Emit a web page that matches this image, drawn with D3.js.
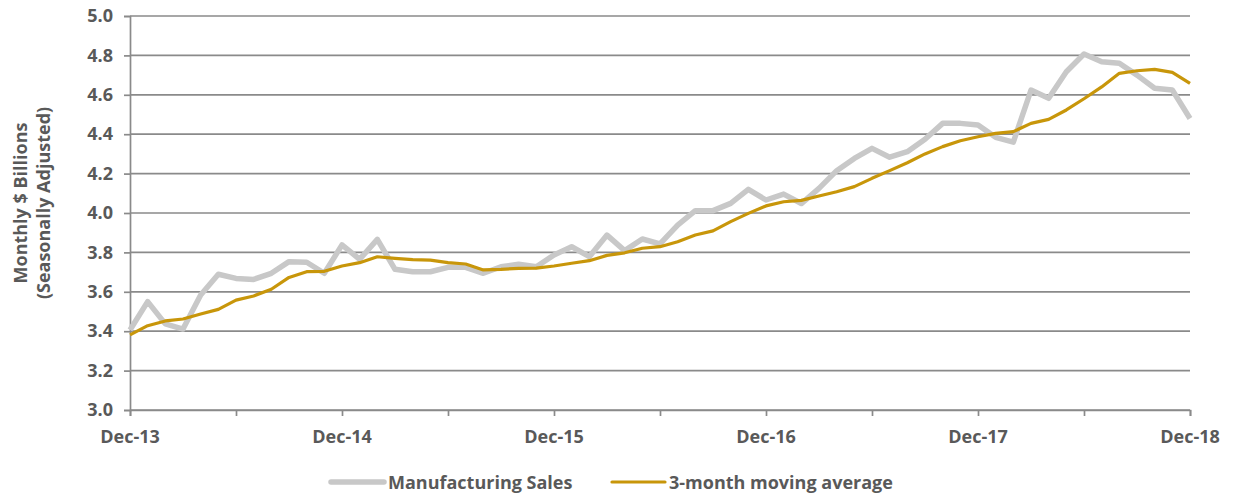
<!DOCTYPE html>
<html><head><meta charset="utf-8">
<script src="https://cdn.jsdelivr.net/npm/d3@7"></script>
<style>
html,body{margin:0;padding:0;background:#fff;}
text{font-family:"Open Sans",Lato,sans-serif;font-weight:bold;fill:#595959;}
</style></head>
<body><svg id="c" width="1233" height="497"></svg>
<script>
const salesValues = [3.406,3.55,3.437,3.411,3.584,3.689,3.668,3.663,3.694,3.753,3.75,3.694,3.838,3.765,3.866,3.714,3.702,3.702,3.724,3.724,3.694,3.727,3.74,3.727,3.787,3.829,3.778,3.888,3.809,3.868,3.843,3.939,4.012,4.012,4.049,4.12,4.066,4.096,4.048,4.125,4.215,4.277,4.328,4.283,4.311,4.374,4.455,4.455,4.447,4.384,4.36,4.624,4.582,4.717,4.807,4.768,4.76,4.70,4.633,4.624,4.48];
const avgValues = [3.381,3.428,3.452,3.462,3.487,3.511,3.558,3.579,3.613,3.673,3.702,3.704,3.731,3.748,3.778,3.77,3.763,3.761,3.748,3.741,3.711,3.714,3.719,3.72,3.731,3.745,3.758,3.785,3.798,3.821,3.829,3.854,3.888,3.909,3.956,3.998,4.036,4.057,4.064,4.086,4.108,4.134,4.176,4.215,4.255,4.30,4.337,4.367,4.387,4.404,4.413,4.455,4.475,4.523,4.58,4.64,4.709,4.722,4.729,4.714,4.658];
const yTicks = [3.0,3.2,3.4,3.6,3.8,4.0,4.2,4.4,4.6,4.8,5.0];
const xLabels = ["Dec-13","Dec-14","Dec-15","Dec-16","Dec-17","Dec-18"];
const seriesNames = ["Manufacturing Sales","3-month moving average"];
const seriesColors = ["#c8c8c8","#c8960a"];

const svg = d3.select("#c");
const L=130, R=1190, T=16, B=410;
const x = d3.scaleLinear().domain([0, salesValues.length-1]).range([L,R]);
const y = d3.scaleLinear().domain([3.0,5.0]).range([B,T]);
const gridColor = "#8a8a8a";
const fs = "18px";

svg.append("g").selectAll("line").data(yTicks).join("line")
  .attr("x1",L).attr("x2",R).attr("y1",d=>y(d)).attr("y2",d=>y(d))
  .attr("stroke",gridColor).attr("stroke-width",1.7);

const yAxis = d3.axisLeft(y).tickValues(yTicks).tickFormat(d3.format(".1f")).tickSize(6).tickPadding(11);
const gy = svg.append("g").attr("transform",`translate(${L},0)`).call(yAxis);
gy.select(".domain").attr("stroke",gridColor).attr("stroke-width",1.7);
gy.selectAll(".tick line").attr("stroke",gridColor).attr("stroke-width",1.7);
gy.selectAll(".tick text").style("font-size",fs).attr("fill","#595959");

const xTicks = d3.range(0, salesValues.length, 6);
const xAxis = d3.axisBottom(x).tickValues(xTicks).tickSize(6).tickFormat(()=>"");
const gx = svg.append("g").attr("transform",`translate(0,${B})`).call(xAxis);
gx.select(".domain").attr("stroke",gridColor).attr("stroke-width",1.7);
gx.selectAll(".tick line").attr("stroke",gridColor).attr("stroke-width",1.7);
svg.append("g").selectAll("text").data(xLabels).join("text")
  .attr("x",(d,i)=>x(i*12)).attr("y",B+33).attr("text-anchor","middle")
  .style("font-size",fs).text(d=>d);

const ty = svg.append("text").attr("transform","translate(0,203) rotate(-90)").attr("text-anchor","middle").style("font-size",fs);
ty.append("tspan").attr("x",0).attr("y",27).text("Monthly $ Billions");
ty.append("tspan").attr("x",0).attr("y",50).text("(Seasonally Adjusted)");

const line = d3.line().x((d,i)=>x(i)).y(d=>y(d)).curve(d3.curveLinear);
svg.append("path").datum(salesValues).attr("d",line).attr("fill","none")
  .attr("stroke",seriesColors[0]).attr("stroke-width",5.5).attr("stroke-linejoin","round");
svg.append("path").datum(avgValues).attr("d",line).attr("fill","none")
  .attr("stroke",seriesColors[1]).attr("stroke-width",3.2).attr("stroke-linejoin","round");

const legX = [331, 612];
const lg = svg.append("g").selectAll("g").data(seriesNames).join("g")
  .attr("transform",(d,i)=>`translate(${legX[i]},482)`);
lg.append("line").attr("x1",0).attr("x2",53).attr("y1",0).attr("y2",0)
  .attr("stroke",(d,i)=>seriesColors[i]).attr("stroke-width",(d,i)=>i===0?5.5:3.2).attr("stroke-linecap","round");
lg.append("text").attr("x",57).attr("y",6.5).style("font-size",fs).text(d=>d);
</script></body></html>
